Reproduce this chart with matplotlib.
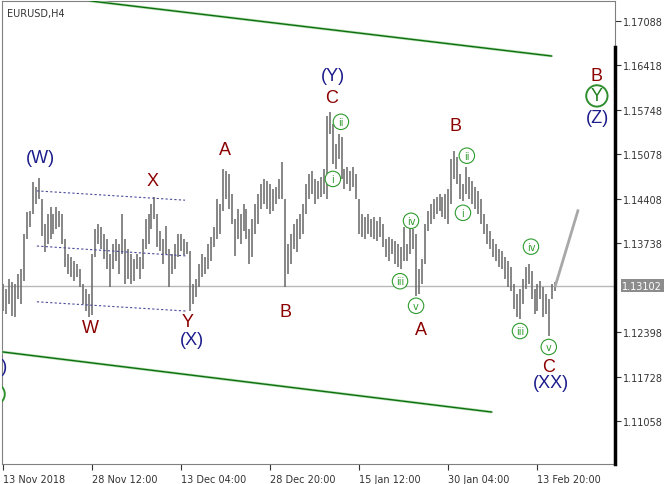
import matplotlib
matplotlib.use("Agg")
import matplotlib.pyplot as plt
import numpy as np

# EURUSD H4, price (one bar per ~3 px)
highs = [1.1313, 1.1305, 1.1320, 1.1316, 1.1313, 1.1328, 1.1335, 1.1388, 1.1421, 1.1423,
         1.1466, 1.1459, 1.1472, 1.1441, 1.1403, 1.1418, 1.1429, 1.1418, 1.1429, 1.1423,
         1.1418, 1.1381, 1.1358, 1.1353, 1.1347, 1.1343, 1.1335, 1.1313, 1.1305, 1.1298,
         1.1358, 1.1396, 1.1403, 1.1399, 1.1388, 1.1381, 1.1358, 1.1373, 1.1381, 1.1373,
         1.1418, 1.1381, 1.1365, 1.1358, 1.1350, 1.1358, 1.1353, 1.1381, 1.1411, 1.1418,
         1.1433, 1.1444, 1.1418, 1.1393, 1.1381, 1.1400, 1.1365, 1.1358, 1.1373, 1.1388,
         1.1388, 1.1381, 1.1376, 1.1362, 1.1313, 1.1320, 1.1343, 1.1358, 1.1353, 1.1373,
         1.1384, 1.1399, 1.1441, 1.1433, 1.1486, 1.1483, 1.1478, 1.1448, 1.1411, 1.1426,
         1.1418, 1.1433, 1.1426, 1.1396, 1.1411, 1.1433, 1.1448, 1.1463, 1.1471, 1.1468,
         1.1463, 1.1456, 1.1459, 1.1471, 1.1496, 1.1441, 1.1373, 1.1388, 1.1403, 1.1411,
         1.1418, 1.1433, 1.1463, 1.1478, 1.1483, 1.1471, 1.1468, 1.1474, 1.1486, 1.1566,
         1.1572, 1.1554, 1.1524, 1.1539, 1.1534, 1.1486, 1.1489, 1.1483, 1.1489, 1.1478,
         1.1441, 1.1418, 1.1414, 1.1418, 1.1411, 1.1414, 1.1408, 1.1414, 1.1403, 1.1381,
         1.1384, 1.1381, 1.1377, 1.1373, 1.1368, 1.1399, 1.1373, 1.1399, 1.1396, 1.1388,
         1.1335, 1.1350, 1.1403, 1.1423, 1.1433, 1.1441, 1.1444, 1.1448, 1.1444, 1.1448,
         1.1456, 1.1501, 1.1513, 1.1504, 1.1478, 1.1463, 1.1489, 1.1474, 1.1468, 1.1459,
         1.1453, 1.1441, 1.1418, 1.1403, 1.1393, 1.1381, 1.1373, 1.1365, 1.1362, 1.1353,
         1.1347, 1.1338, 1.1313, 1.1298, 1.1305, 1.1320, 1.1338, 1.1343, 1.1332, 1.1305,
         1.1313, 1.1317, 1.1308, 1.1298, 1.1290, 1.1313, 1.1316]
lows = [1.1272, 1.1268, 1.1283, 1.1265, 1.1263, 1.1290, 1.1283, 1.1317, 1.1381, 1.1399,
        1.1418, 1.1433, 1.1441, 1.1385, 1.1361, 1.1373, 1.1381, 1.1388, 1.1396, 1.1399,
        1.1373, 1.1338, 1.1328, 1.1323, 1.1317, 1.1323, 1.1308, 1.1283, 1.1272, 1.1263,
        1.1266, 1.1353, 1.1373, 1.1365, 1.1350, 1.1335, 1.1308, 1.1335, 1.1347, 1.1328,
        1.1358, 1.1313, 1.1320, 1.1313, 1.1317, 1.1335, 1.1320, 1.1335, 1.1365, 1.1373,
        1.1396, 1.1411, 1.1368, 1.1362, 1.1343, 1.1358, 1.1308, 1.1328, 1.1335, 1.1353,
        1.1362, 1.1356, 1.1358, 1.1272, 1.1283, 1.1293, 1.1308, 1.1323, 1.1328, 1.1335,
        1.1347, 1.1368, 1.1381, 1.1388, 1.1423, 1.1441, 1.1426, 1.1403, 1.1355, 1.1381,
        1.1373, 1.1393, 1.1381, 1.1343, 1.1353, 1.1388, 1.1403, 1.1426, 1.1433, 1.1426,
        1.1418, 1.1423, 1.1433, 1.1441, 1.1441, 1.1308, 1.1328, 1.1343, 1.1365, 1.1361,
        1.1381, 1.1388, 1.1418, 1.1441, 1.1448, 1.1433, 1.1441, 1.1444, 1.1448, 1.1441,
        1.1539, 1.1493, 1.1486, 1.1501, 1.1471, 1.1456, 1.1463, 1.1453, 1.1459, 1.1441,
        1.1388, 1.1384, 1.1381, 1.1388, 1.1384, 1.1381, 1.1377, 1.1384, 1.1368, 1.1353,
        1.1347, 1.1358, 1.1343, 1.1338, 1.1335, 1.1347, 1.1347, 1.1358, 1.1365, 1.1295,
        1.1298, 1.1313, 1.1343, 1.1393, 1.1403, 1.1411, 1.1418, 1.1423, 1.1414, 1.1411,
        1.1403, 1.1433, 1.1471, 1.1463, 1.1441, 1.1438, 1.1448, 1.1441, 1.1433, 1.1426,
        1.1418, 1.1403, 1.1388, 1.1373, 1.1365, 1.1353, 1.1347, 1.1338, 1.1335, 1.1320,
        1.1308, 1.1302, 1.1275, 1.1263, 1.1260, 1.1283, 1.1305, 1.1313, 1.1290, 1.1268,
        1.1272, 1.1290, 1.1263, 1.1268, 1.1234, 1.1290, 1.1302]

last_price = 1.13102
tick_prices = [1.17088, 1.16418, 1.15748, 1.15078, 1.14408, 1.13738, 1.12398, 1.11728, 1.11058]
date_ticks = [0, 30, 60, 90, 120, 150, 180]
date_labels = ["13 Nov 2018", "28 Nov 12:00", "13 Dec 04:00", "28 Dec 20:00",
               "15 Jan 12:00", "30 Jan 04:00", "13 Feb 20:00"]

# channel lines and the projection (bar index, price)
chan_upper = ([29.3, 184.8], [1.1739, 1.1656])
chan_lower = ([-1.0, 164.6], [1.1211, 1.1120])
dash_top = ([11.4, 61.3], [1.1453, 1.1439])
dash_mid = ([11.4, 62.0], [1.1370, 1.1355])
dash_low = ([11.4, 62.0], [1.1286, 1.1272])
projection = ([186, 193.6], [1.1310, 1.1423])

# wave labels: text, bar index, price, kind
waves = [
    ("(W)", 12.5, 1.1504, "navy"), ("X", 50.5, 1.1468, "red"), ("W", 29.3, 1.1248, "red"),
    ("Y", 62.3, 1.1256, "red"), ("(X)", 63.6, 1.1230, "navy"), ("A", 74.7, 1.1515, "red"),
    ("B", 95.3, 1.1272, "red"), ("(Y)", 111.1, 1.1626, "navy"), ("C", 110.8, 1.1593, "red"),
    ("A", 140.7, 1.1245, "red"), ("B", 152.5, 1.1551, "red"), ("C", 183.8, 1.1188, "red"),
    ("(XX)", 184.5, 1.1164, "navy"), ("B", 200.0, 1.1626, "red"), ("(Z)", 200.3, 1.1563, "navy"),
    ("(Z)", -2.2, 1.1189, "navy"),
]
minor = [
    ("ii", 113.8, 1.1557), ("i", 111.1, 1.1471), ("iii", 133.7, 1.1317), ("iv", 137.4, 1.1408),
    ("v", 139.1, 1.1280), ("ii", 156.2, 1.1506), ("i", 154.9, 1.1420), ("iv", 177.8, 1.1369),
    ("iii", 174.1, 1.1242), ("v", 183.8, 1.1218),
]
big_circled = [("Y", 200.0, 1.1596), ("Y", -3.0, 1.1147)]

colors = {"red": "#8b0000", "navy": "#1c1c8c"}
green = "#2f9a2f"

fig = plt.figure(figsize=(6.7, 4.85), dpi=100)
ax = fig.add_axes([2 / 670, 20 / 485, 613 / 670, 463 / 485])
idx = np.arange(len(highs))

ax.axhline(last_price, color="#b8b8b8", lw=1, zorder=1)
ax.vlines(idx, lows, highs, color="#666666", lw=1.1, zorder=2)

for line in (chan_upper, chan_lower):
    ax.plot(line[0], line[1], color="#b6e0b6", lw=2.0, solid_capstyle="butt", zorder=3)
    ax.plot(line[0], line[1], color="#0f6f0f", lw=1.0, zorder=3)
for line in (dash_top, dash_mid, dash_low):
    ax.plot(line[0], line[1], color="#4a4a9a", lw=0.8, ls=(0, (2, 2)), zorder=3)
ax.plot(projection[0], projection[1], color="#a8a8a8", lw=2, zorder=3)

for txt, x, y, kind in waves:
    ax.text(x, y, txt, color=colors[kind], fontsize=13, family="Liberation Sans",
            ha="center", va="center", clip_on=True, zorder=5)
for txt, x, y in minor:
    ax.text(x, y, txt, color=green, fontsize=7, family="DejaVu Sans", ha="center", va="center",
            zorder=5, bbox=dict(boxstyle="circle,pad=0.28", fc="white", ec=green, lw=0.8))
for txt, x, y in big_circled:
    ax.text(x, y, txt, color="#1f7f1f", fontsize=13, family="Liberation Sans", ha="center",
            va="center", clip_on=True, zorder=5,
            bbox=dict(boxstyle="circle,pad=0.12", fc="white", ec="#2f8f2f", lw=1.4))

ax.text(0.008, 0.975, "EURUSD,H4", transform=ax.transAxes, fontsize=7, color="#333333",
        ha="left", va="center", family="DejaVu Sans")

ax.set_xlim(-0.34, 206.1)
ax.set_ylim(1.10418, 1.17389)

ax.yaxis.tick_right()
ax.set_yticks(tick_prices)
ax.set_yticklabels(["%.5f" % p for p in tick_prices], fontsize=7, color="#333333")
ax.set_xticks(date_ticks)
ax.set_xticklabels(date_labels, fontsize=7, color="#333333", ha="left")
ax.tick_params(axis="both", length=4, width=0.8, color="#333333", pad=2)
ax.tick_params(axis="x", pad=3)

ax.text(1.012, last_price, "%.5f" % last_price, transform=ax.get_yaxis_transform(),
        fontsize=7, color="white", ha="left", va="center",
        bbox=dict(boxstyle="square,pad=0.15", fc="#8c8c8c", ec="none"))

for s in ax.spines.values():
    s.set_color("#808080")
ax.plot([1, 1], [0, 417 / 463], transform=ax.transAxes, color="black", lw=2.5, clip_on=False,
        zorder=6)

fig.savefig("out.png", dpi=100)
